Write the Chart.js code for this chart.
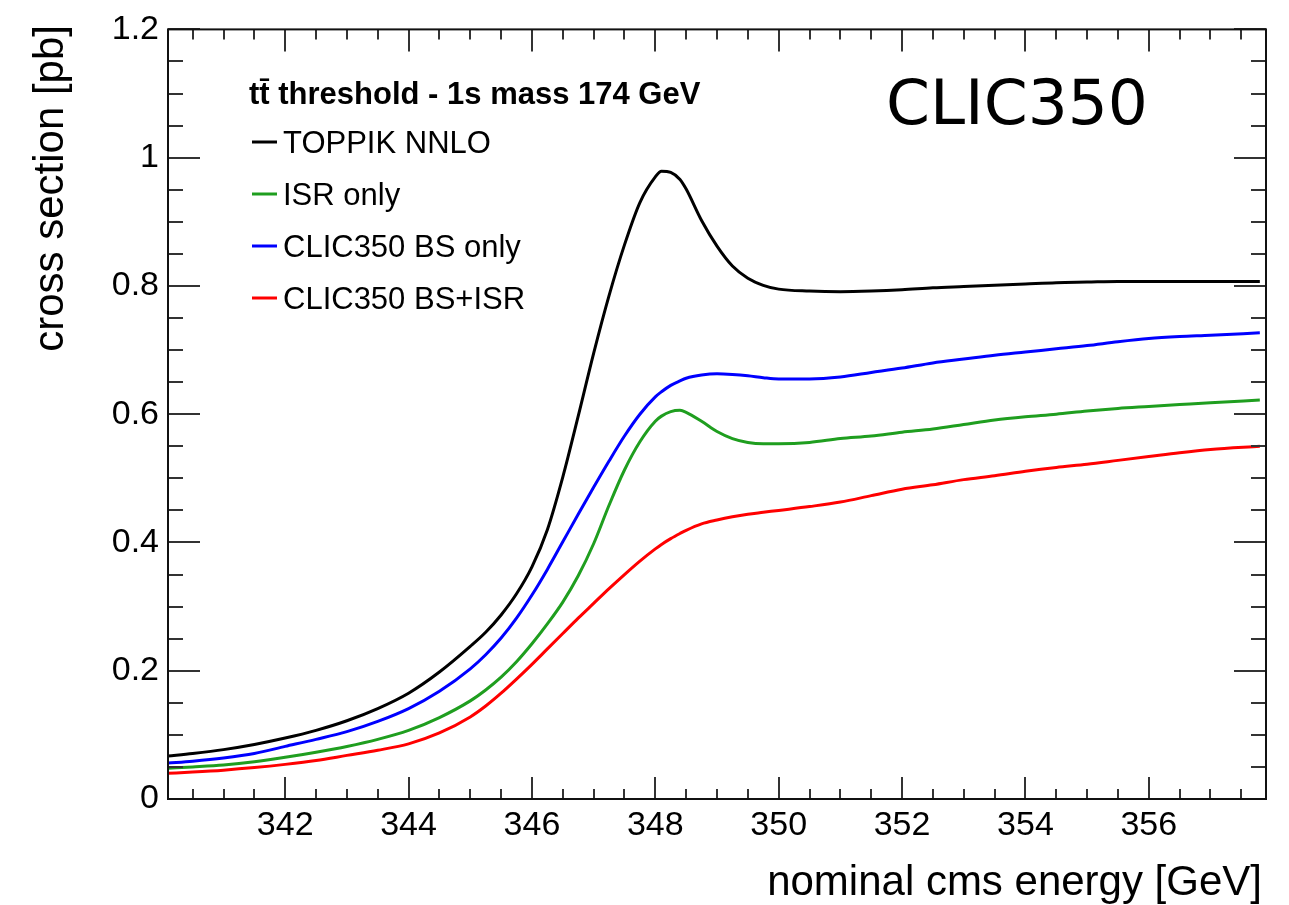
<!DOCTYPE html>
<html><head><meta charset="utf-8">
<script src="https://cdn.jsdelivr.net/npm/chart.js@4.4.0/dist/chart.umd.min.js"></script>
<style>html,body{margin:0;padding:0;background:#fff;} #wrap{width:1289px;height:905px;position:relative;}</style>
</head><body><div id="wrap"><canvas id="c" width="1289" height="905"></canvas></div>
<script>
const energies = [340.1, 340.5, 341, 341.5, 342, 342.5, 343, 343.5, 344, 344.5,
  345, 345.25, 345.5, 345.75, 346, 346.25, 346.5, 346.75, 347, 347.25,
  347.5, 347.75, 348, 348.1, 348.25, 348.4, 348.5, 348.75, 349, 349.25,
  349.5, 349.75, 350, 350.5, 351, 351.5, 352, 352.5, 353, 353.5,
  354, 354.5, 355, 355.5, 356, 356.5, 357, 357.8];
const toppik = [0.067, 0.071, 0.077, 0.085, 0.095, 0.107, 0.122, 0.141, 0.165, 0.198,
  0.238, 0.260, 0.287, 0.320, 0.362, 0.420, 0.502, 0.597, 0.695, 0.785,
  0.864, 0.930, 0.970, 0.979, 0.977, 0.966, 0.951, 0.902, 0.862, 0.831,
  0.812, 0.801, 0.795, 0.792, 0.791, 0.792, 0.794, 0.797, 0.799, 0.801,
  0.803, 0.805, 0.806, 0.807, 0.807, 0.807, 0.807, 0.807];
const isrOnly = [0.048, 0.050, 0.053, 0.058, 0.065, 0.073, 0.082, 0.093, 0.107, 0.127,
  0.153, 0.170, 0.190, 0.214, 0.242, 0.273, 0.307, 0.348, 0.398, 0.458,
  0.513, 0.557, 0.589, 0.597, 0.604, 0.606, 0.603, 0.589, 0.573, 0.562,
  0.556, 0.554, 0.554, 0.556, 0.562, 0.566, 0.572, 0.577, 0.584, 0.591,
  0.596, 0.600, 0.605, 0.609, 0.612, 0.615, 0.618, 0.622];
const bsOnly = [0.056, 0.059, 0.064, 0.071, 0.082, 0.093, 0.105, 0.121, 0.141, 0.168,
  0.203, 0.225, 0.251, 0.282, 0.318, 0.358, 0.401, 0.444, 0.486, 0.527,
  0.566, 0.600, 0.627, 0.635, 0.645, 0.652, 0.656, 0.661, 0.663, 0.662,
  0.660, 0.657, 0.655, 0.655, 0.658, 0.665, 0.672, 0.680, 0.686, 0.692,
  0.697, 0.702, 0.707, 0.713, 0.718, 0.721, 0.723, 0.727];
const bsIsr = [0.040, 0.042, 0.045, 0.049, 0.054, 0.060, 0.068, 0.076, 0.086, 0.103,
  0.128, 0.145, 0.165, 0.187, 0.210, 0.234, 0.258, 0.282, 0.305, 0.328,
  0.350, 0.371, 0.390, 0.397, 0.406, 0.414, 0.419, 0.429, 0.435, 0.440,
  0.444, 0.447, 0.450, 0.456, 0.463, 0.473, 0.483, 0.490, 0.498, 0.504,
  0.511, 0.517, 0.522, 0.528, 0.534, 0.540, 0.545, 0.550];
const seriesLabels = ['TOPPIK NNLO', 'ISR only', 'CLIC350 BS only', 'CLIC350 BS+ISR'];
const seriesColors = ['#000000', '#1f9e1f', '#0000ff', '#ff0000'];
const xTicks = [342, 344, 346, 348, 350, 352, 354, 356];
const yTicks = [0, 0.2, 0.4, 0.6, 0.8, 1, 1.2];
const xRange = [340.1, 357.9];
const yRange = [0, 1.2];
const legendHeader = 'tt\u0304 threshold - 1s mass 174 GeV';
const xTitle = 'nominal cms energy [GeV]';
const yTitle = 'cross section [pb]';
const tagText = 'CLIC350';

const seriesValues = [toppik, isrOnly, bsOnly, bsIsr];
const datasets = seriesValues.map((vals, i) => ({
  label: seriesLabels[i],
  data: energies.map((e, k) => ({x: e, y: vals[k]})),
  borderColor: seriesColors[i],
  borderWidth: 3,
  pointRadius: 0,
  fill: false,
  cubicInterpolationMode: 'monotone'
}));

const FONT = '"Liberation Sans", Arial, Helvetica, sans-serif';

const decor = {
  id: 'decor',
  afterDraw(chart) {
    const ctx = chart.ctx;
    const xs = chart.scales.x, ys = chart.scales.y;
    const {left, right, top, bottom} = chart.chartArea;
    ctx.save();
    ctx.strokeStyle = '#333';
    ctx.lineWidth = 2;
    ctx.beginPath();
    for (let v = Math.ceil(xs.min * 2) / 2; v <= xs.max + 1e-9; v += 0.5) {
      const px = Math.round(xs.getPixelForValue(v));
      const major = Math.abs(v / 2 - Math.round(v / 2)) < 1e-6;
      const L = major ? 22 : 10;
      ctx.moveTo(px, bottom); ctx.lineTo(px, bottom - L);
      ctx.moveTo(px, top); ctx.lineTo(px, top + L);
    }
    for (let i = 0; i * 0.05 <= ys.max + 1e-9; i++) {
      const v = i * 0.05;
      const py = Math.round(ys.getPixelForValue(v));
      const major = i % 4 === 0;
      const L = major ? 32 : 15;
      ctx.moveTo(left, py); ctx.lineTo(left + L, py);
      ctx.moveTo(right, py); ctx.lineTo(right - L, py);
    }
    ctx.stroke();
    ctx.strokeStyle = '#111';
    ctx.lineWidth = 2;
    ctx.strokeRect(left, top, right - left, bottom - top);

    ctx.fillStyle = '#000';
    ctx.textAlign = 'left';
    ctx.textBaseline = 'alphabetic';
    ctx.font = 'bold 31px ' + FONT;
    ctx.fillText(legendHeader, 249, 104);
    ctx.font = '31px ' + FONT;
    chart.data.datasets.forEach((ds, i) => {
      const base = 153 + i * 52;
      ctx.strokeStyle = ds.borderColor;
      ctx.lineWidth = 3;
      ctx.beginPath();
      ctx.moveTo(252, base - 11); ctx.lineTo(277, base - 11);
      ctx.stroke();
      ctx.fillStyle = '#000';
      ctx.fillText(ds.label, 283, base);
    });

    ctx.font = '63px "DejaVu Sans", sans-serif';
    ctx.fillText(tagText, 886, 124);

    ctx.font = '42px ' + FONT;
    ctx.textAlign = 'right';
    ctx.fillText(xTitle, 1262, 895);
    ctx.save();
    ctx.translate(63, 25);
    ctx.rotate(-Math.PI / 2);
    ctx.textAlign = 'right';
    ctx.fillText(yTitle, 0, 0);
    ctx.restore();
    ctx.restore();
  }
};

new Chart(document.getElementById('c'), {
  type: 'line',
  data: {datasets},
  options: {
    responsive: false,
    devicePixelRatio: 1,
    animation: false,
    layout: {padding: {top: 25, right: 23, left: 0, bottom: 0}},
    plugins: {legend: {display: false}, tooltip: {enabled: false}},
    scales: {
      x: {
        type: 'linear', min: xRange[0], max: xRange[1],
        grid: {display: false, drawTicks: false},
        border: {display: false},
        afterBuildTicks: s => { s.ticks = xTicks.map(v => ({value: v})); },
        afterFit: s => { s.height = 106; },
        ticks: {font: {family: FONT, size: 34}, color: '#000', padding: 6, maxRotation: 0,
                callback: v => String(v)}
      },
      y: {
        type: 'linear', min: yRange[0], max: yRange[1],
        grid: {display: false, drawTicks: false},
        border: {display: false},
        afterBuildTicks: s => { s.ticks = yTicks.map(v => ({value: v})); },
        afterFit: s => { s.width = 168; },
        ticks: {font: {family: FONT, size: 34}, color: '#000', padding: 9,
                callback: v => String(Math.round(v * 10) / 10)}
      }
    }
  },
  plugins: [decor]
});
</script></body></html>
